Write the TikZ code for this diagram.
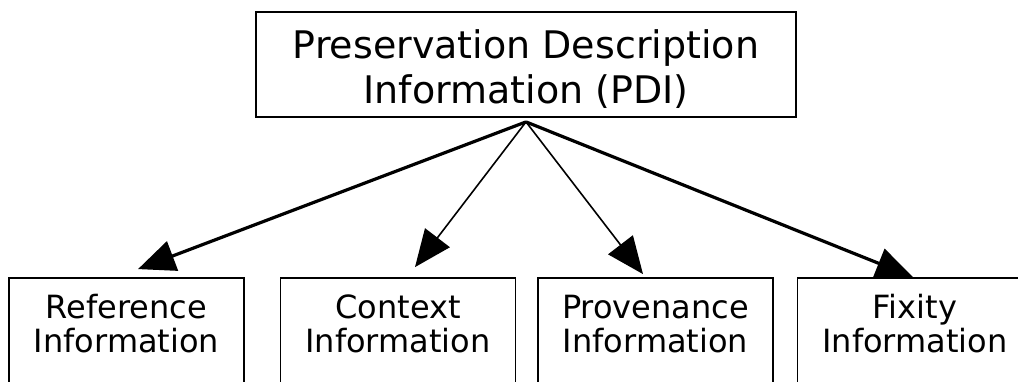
\documentclass[tikz,border=0pt]{standalone}
\usepackage{fontspec}
\newfontfamily\diafont{DejaVu Sans}
\usetikzlibrary{arrows.meta}
\begin{document}
\begin{tikzpicture}[x=1pt,y=-1pt,
  topbox/.style={draw, line width=1.8pt, inner sep=0pt,
    minimum width=540pt, minimum height=105pt,
    text height=30pt, text depth=43pt,
    font=\diafont\fontsize{38}{45}\selectfont},
  botbox/.style={draw, line width=1.8pt, inner sep=0pt,
    minimum width=235pt, minimum height=122pt,
    text height=24pt, text depth=66pt,
    font=\diafont\fontsize{32}{34}\selectfont},
  thickarrow/.style={line width=3.2pt, -{Triangle[length=37pt,width=31pt]}},
  thinarrow/.style={line width=1.6pt, -{Triangle[length=37pt,width=31pt]}}
  ]
\useasboundingbox (0,0) rectangle (1018,381);
\fill[white] (0,0) rectangle (1018,381);
\clip (0,0) rectangle (1018,381);

\node[topbox] (pdi) at (526,64.5)
  {\begin{tabular}[t]{@{}c@{}}Preservation Description\\Information (PDI)\end{tabular}};

\node[botbox] (ref) at (126.5,339)
  {\begin{tabular}[t]{@{}c@{}}Reference\\Information\end{tabular}};
\node[botbox] (ctx) at (398,339)
  {\begin{tabular}[t]{@{}c@{}}Context\\Information\end{tabular}};
\node[botbox] (prov) at (655.5,339)
  {\begin{tabular}[t]{@{}c@{}}Provenance\\Information\end{tabular}};
\node[botbox] (fix) at (915,339)
  {\begin{tabular}[t]{@{}c@{}}Fixity\\Information\end{tabular}};

\coordinate (src) at ([yshift=-4pt]pdi.south);

\draw[thickarrow] (src) -- ([xshift=11.5pt,yshift=8pt]ref.north);
\draw[thinarrow]  (src) -- ([xshift=17pt,yshift=10pt]ctx.north);
\draw[thinarrow]  (src) -- ([xshift=-12.5pt,yshift=3pt]prov.north);
\draw[thickarrow] (src) -- ([xshift=-2pt,yshift=0pt]fix.north);
\end{tikzpicture}
\end{document}
